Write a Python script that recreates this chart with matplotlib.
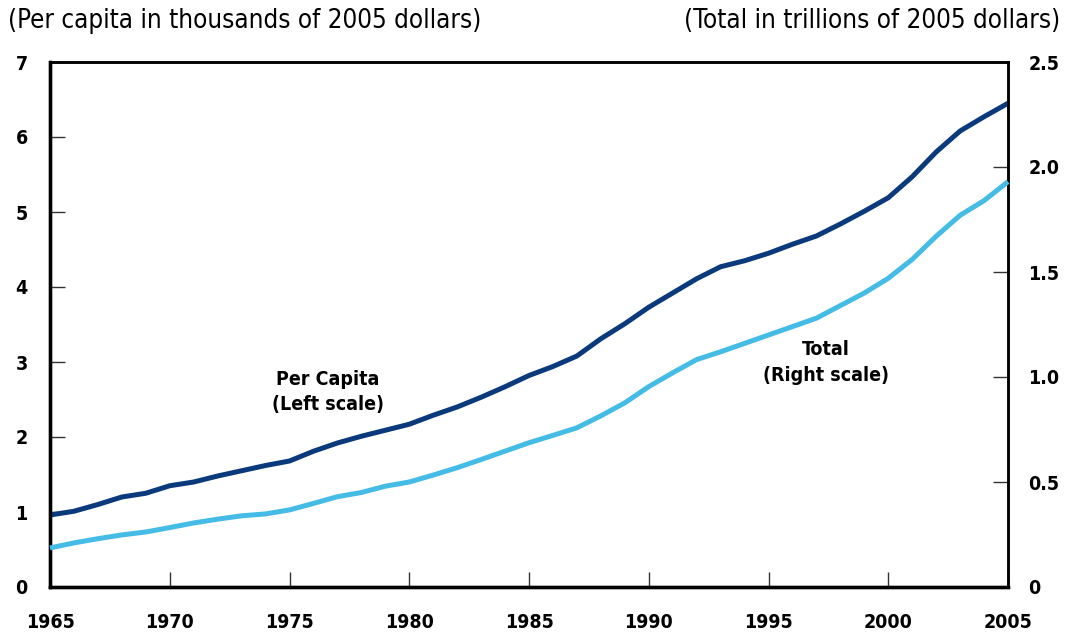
import matplotlib.pyplot as plt
import numpy as np
from matplotlib import font_manager

# prefer a condensed face when one is installed
names = {f.name for f in font_manager.fontManager.ttflist}
narrow = [n for n in ('Liberation Sans Narrow', 'DejaVu Sans Condensed') if n in names]
plt.rcParams['font.family'] = narrow + ['DejaVu Sans']
plt.rcParams['font.stretch'] = 'condensed'

years = np.arange(1965, 2006)
per_capita = [0.96, 1.01, 1.10, 1.20, 1.25, 1.35, 1.40, 1.48, 1.55, 1.62,
              1.68, 1.81, 1.92, 2.01, 2.09, 2.17, 2.29, 2.40, 2.53, 2.67,
              2.82, 2.94, 3.08, 3.31, 3.51, 3.73, 3.92, 4.11, 4.27, 4.35,
              4.45, 4.57, 4.68, 4.84, 5.01, 5.19, 5.47, 5.80, 6.08, 6.27,
              6.45]
total = [0.186, 0.21, 0.23, 0.248, 0.262, 0.283, 0.305, 0.323, 0.339, 0.348,
         0.367, 0.398, 0.43, 0.45, 0.48, 0.50, 0.533, 0.568, 0.607, 0.647,
         0.687, 0.722, 0.758, 0.815, 0.877, 0.954, 1.02, 1.083, 1.12, 1.16,
         1.20, 1.24, 1.28, 1.34, 1.40, 1.47, 1.56, 1.67, 1.77, 1.84, 1.93]

left_ticks = [0, 1, 2, 3, 4, 5, 6, 7]
right_ticks = [0, 0.5, 1.0, 1.5, 2.0, 2.5]
right_labels = ['0', '0.5', '1.0', '1.5', '2.0', '2.5']
x_ticks = [1965, 1970, 1975, 1980, 1985, 1990, 1995, 2000, 2005]

W, H = 1065, 635
fig = plt.figure(figsize=(W / 100, H / 100), dpi=100)
ax = fig.add_axes([50 / W, 1 - 587 / H, 958 / W, 525 / H])
ax2 = ax.twinx()

ax.plot(years, per_capita, color='#0b3a7c', lw=3.6, solid_capstyle='butt',
        clip_on=False, zorder=3)
ax2.plot(years, total, color='#45bce5', lw=3.6, solid_capstyle='butt',
         clip_on=False, zorder=3)

ax.set_xlim(1965, 2005)
ax.set_ylim(0, 7)
ax2.set_ylim(0, 2.5)

ax.set_xticks(x_ticks)
ax.set_yticks(left_ticks)
ax2.set_yticks(right_ticks)
ax2.set_yticklabels(right_labels)

for a in (ax, ax2):
    a.spines['left'].set_linewidth(2.4)
    a.spines['bottom'].set_linewidth(2.4)
    a.spines['top'].set_linewidth(1.8)
    a.spines['right'].set_linewidth(1.8)
ax.tick_params(axis='x', direction='in', length=11, width=1.0, pad=19,
               labelsize=14, color='#333333')
ax.tick_params(axis='y', direction='in', length=11, width=1.0, pad=16,
               labelsize=14, color='#333333')
ax2.tick_params(axis='y', direction='in', length=11, width=1.0, pad=14.5,
                labelsize=14, color='#333333')
for lab in ax.get_xticklabels() + ax.get_yticklabels() + ax2.get_yticklabels():
    lab.set_fontweight('bold')

fig.text(8 / W, 1 - 21 / H, '(Per capita in thousands of 2005 dollars)',
         fontsize=18.6, ha='left', va='center')
fig.text(1060 / W, 1 - 21 / H, '(Total in trillions of 2005 dollars)',
         fontsize=18.6, ha='right', va='center')

ax.text(1976.6, 2.6, 'Per Capita\n(Left scale)', fontsize=14,
        fontweight='bold', ha='center', va='center', linespacing=1.45)
ax.text(1997.4, 2.99, 'Total\n(Right scale)', fontsize=14,
        fontweight='bold', ha='center', va='center', linespacing=1.45)

fig.savefig('out.png', dpi=100)
